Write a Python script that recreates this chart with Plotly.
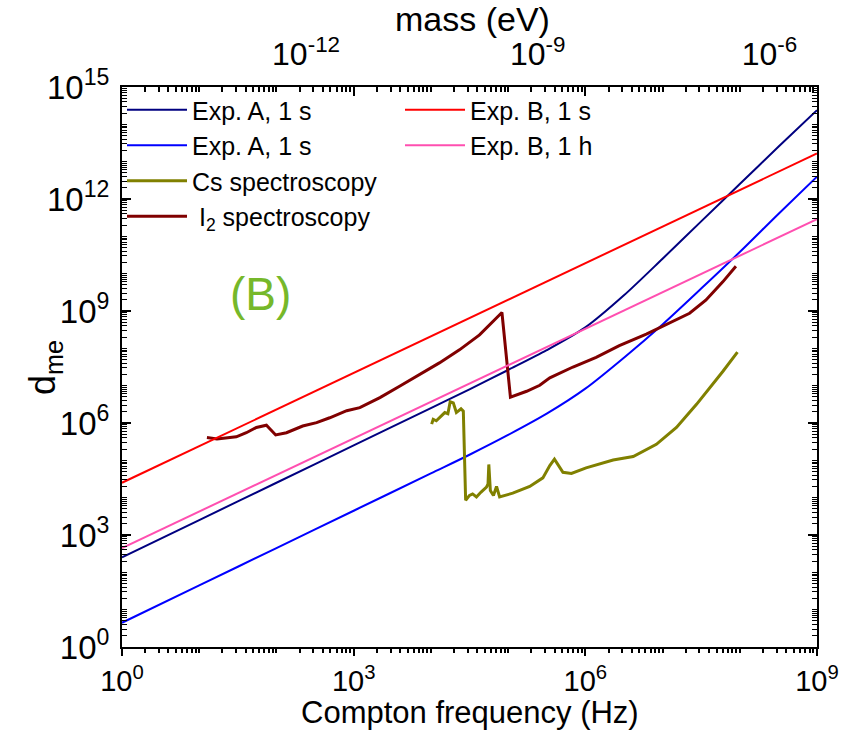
import numpy as np
import plotly.graph_objects as go

# ---- data (log10 values) ----
# Exp. A, 1 s (navy)
navy_logf = [0, 1, 2, 3, 4, 4.5, 5, 5.5, 6, 6.5, 7, 7.5, 8, 8.5, 9]
navy_logd = [2.4, 3.4, 4.4, 5.4, 6.4, 6.9, 7.42, 7.95, 8.56, 9.42, 10.4, 11.4, 12.4, 13.4, 14.38]
# Exp. A, 1 s (blue)
blue_logf = [0, 1, 2, 3, 4, 4.5, 5, 5.5, 6, 6.5, 7, 7.5, 8, 8.5, 9]
blue_logd = [0.65, 1.65, 2.65, 3.65, 4.65, 5.15, 5.68, 6.25, 6.92, 7.75, 8.64, 9.6, 10.58, 11.6, 12.6]
# Exp. B, 1 s (red)
red_logf = [0, 9]
red_logd = [4.4, 13.22]
# Exp. B, 1 h (pink)
pink_logf = [0, 9]
pink_logd = [2.65, 11.46]
# Cs spectroscopy
cs_logf = [4.01, 4.03, 4.07, 4.11, 4.18, 4.22, 4.25, 4.29, 4.33, 4.39, 4.42, 4.45, 4.50, 4.54,
           4.59, 4.65, 4.72, 4.74, 4.75, 4.77, 4.81, 4.85, 4.89, 5.06, 5.28, 5.45, 5.54, 5.60,
           5.66, 5.71, 5.82, 6.01, 6.36, 6.62, 6.92, 7.18, 7.44, 7.62, 7.78, 7.97]
cs_logd = [5.97, 6.10, 6.06, 6.14, 6.28, 6.25, 6.57, 6.54, 6.28, 6.38, 6.32, 3.93, 4.06, 4.10,
           4.02, 4.15, 4.28, 4.37, 4.89, 4.19, 4.06, 4.30, 4.02, 4.12, 4.30, 4.53, 4.86, 5.03,
           4.85, 4.68, 4.65, 4.80, 5.01, 5.10, 5.43, 5.88, 6.50, 6.95, 7.38, 7.90]
# I2 spectroscopy
i2_logf = [1.10, 1.23, 1.48, 1.61, 1.74, 1.87, 1.99, 2.13, 2.34, 2.52, 2.69, 2.91, 3.08, 3.34,
           3.60, 3.86, 4.11, 4.37, 4.63, 4.92, 5.03, 5.24, 5.41, 5.54, 5.84, 6.14, 6.44, 6.79,
           7.05, 7.35, 7.56, 7.78, 7.95]
i2_logd = [5.61, 5.57, 5.63, 5.74, 5.88, 5.94, 5.68, 5.74, 5.92, 6.01, 6.14, 6.33, 6.41, 6.68,
           6.99, 7.30, 7.61, 7.96, 8.36, 8.96, 6.69, 6.85, 7.01, 7.21, 7.50, 7.76, 8.07, 8.38,
           8.63, 8.94, 9.29, 9.78, 10.20]

# tick labels
x_tick_exp = [0, 3, 6, 9]
y_tick_exp = [0, 3, 6, 9, 12, 15]
mass_tick_exp = [-12, -9, -6]

H_EVS = 4.135667696e-15  # Planck constant, eV*s (frequency -> mass)

FONT = "Liberation Sans Narrow, Arial Narrow, Liberation Sans, Arial, sans-serif"

# plot area in pixels (for placing the free titles)
L, R, T, B = 122, 27, 87, 84
PW, PH = 844 - L - R, 731 - T - B


def p10(a):
    return np.power(10.0, np.array(a, dtype=float))


def lbl(exps):
    return ["10<sup>%d</sup>" % e for e in exps]


fig = go.Figure()

series = [
    ("Exp. A, 1 s", navy_logf, navy_logd, "#000080", 2, "legend", True),
    ("Exp. A, 1 s", blue_logf, blue_logd, "#0000ff", 2, "legend", True),
    ("Cs spectroscopy", cs_logf, cs_logd, "#808000", 3, "legend", False),
    (" I<sub>2</sub> spectroscopy", i2_logf, i2_logd, "#800000", 3, "legend", False),
    ("Exp. B, 1 s", red_logf, red_logd, "#ff0000", 2, "legend2", False),
    ("Exp. B, 1 h", pink_logf, pink_logd, "#ff4fb0", 2, "legend2", False),
]
for name, lf, ld, col, w, leg, smooth in series:
    fig.add_trace(go.Scatter(
        x=p10(lf), y=p10(ld), mode="lines", name=name, legend=leg,
        line=dict(color=col, width=w, shape="spline" if smooth else "linear",
                  smoothing=0.8 if smooth else None),
        hoverinfo="skip"))

# invisible traces to make the extra axes render
fig.add_trace(go.Scatter(x=[1e-10], y=[1], xaxis="x2", mode="markers",
                         marker=dict(opacity=0), showlegend=False, hoverinfo="skip"))
fig.add_trace(go.Scatter(x=[10], y=[1], xaxis="x3", mode="markers",
                         marker=dict(opacity=0), showlegend=False, hoverinfo="skip"))

lmin = np.log10(H_EVS)

fig.update_layout(
    width=844, height=731,
    margin=dict(l=L, r=R, t=T, b=B, autoexpand=False),
    paper_bgcolor="white", plot_bgcolor="white",
    font=dict(family=FONT, color="black", size=30),
    xaxis=dict(
        type="log", range=[0, 9], automargin=False,
        tickvals=p10(x_tick_exp), ticktext=lbl(x_tick_exp),
        showline=True, linecolor="black", linewidth=2, mirror=False,
        ticks="outside", ticklen=7, tickwidth=2, tickcolor="black",
        ticklabelstandoff=0,
        minor=dict(dtick="D1", ticks="outside", ticklen=4, tickwidth=1.5,
                   tickcolor="black", showgrid=False),
        showgrid=False, zeroline=False,
        tickfont=dict(size=29, family=FONT),
    ),
    xaxis3=dict(
        type="log", range=[0, 9], dtick=3, overlaying="x", side="top", automargin=False,
        showline=True, linecolor="black", linewidth=2,
        ticks="inside", ticklen=9, tickwidth=2, tickcolor="black",
        minor=dict(dtick="D1", ticks="inside", ticklen=5, tickwidth=1.5,
                   tickcolor="black", showgrid=False),
        showticklabels=False, showgrid=False, zeroline=False,
    ),
    xaxis2=dict(
        type="log", range=[lmin, lmin + 9], overlaying="x", side="top", automargin=False,
        tickvals=p10(mass_tick_exp), ticktext=lbl(mass_tick_exp),
        ticks="outside", ticklen=8, tickcolor="rgba(0,0,0,0)",
        showline=False, showgrid=False, zeroline=False,
        tickfont=dict(size=32, family=FONT),
    ),
    yaxis=dict(
        type="log", range=[0, 15], automargin=False,
        tickvals=p10(y_tick_exp), ticktext=lbl(y_tick_exp),
        showline=True, linecolor="black", linewidth=2, mirror="ticks",
        ticks="inside", ticklen=9, tickwidth=2, tickcolor="black",
        minor=dict(dtick="D1", ticks="inside", ticklen=5, tickwidth=1,
                   tickcolor="black", showgrid=False),
        showgrid=False, zeroline=False,
        tickfont=dict(size=33, family=FONT),
        ticklabelstandoff=4,
    ),
    legend=dict(x=0.0, y=1.0, xanchor="left", yanchor="top",
                bgcolor="rgba(0,0,0,0)", font=dict(size=25, family=FONT),
                tracegroupgap=0, itemwidth=60, traceorder="normal"),
    legend2=dict(x=0.40, y=1.0, xanchor="left", yanchor="top",
                 bgcolor="rgba(0,0,0,0)", font=dict(size=25, family=FONT),
                 itemwidth=60, traceorder="normal"),
    annotations=[
        dict(text="(B)", xref="paper", yref="paper", x=0.153, y=0.68,
             showarrow=False, font=dict(size=46, color="#76b82a", family=FONT)),
        dict(text="d<sub>me</sub>", xref="paper", yref="paper",
             x=(45 - L) / PW, y=(T + PH - 368) / PH, textangle=-90,
             xanchor="center", yanchor="middle",
             showarrow=False, font=dict(size=36, color="black", family=FONT)),
        dict(text="Compton frequency (Hz)", xref="paper", yref="paper",
             x=0.5, y=(T + PH - 712) / PH, xanchor="center", yanchor="middle",
             showarrow=False, font=dict(size=31, color="black", family=FONT)),
        dict(text="mass (eV)", xref="paper", yref="paper",
             x=(472 - L) / PW, y=(T + PH - 19) / PH, xanchor="center", yanchor="middle",
             showarrow=False, font=dict(size=34, color="black", family=FONT)),
    ],
)

fig.write_html("out.html")
